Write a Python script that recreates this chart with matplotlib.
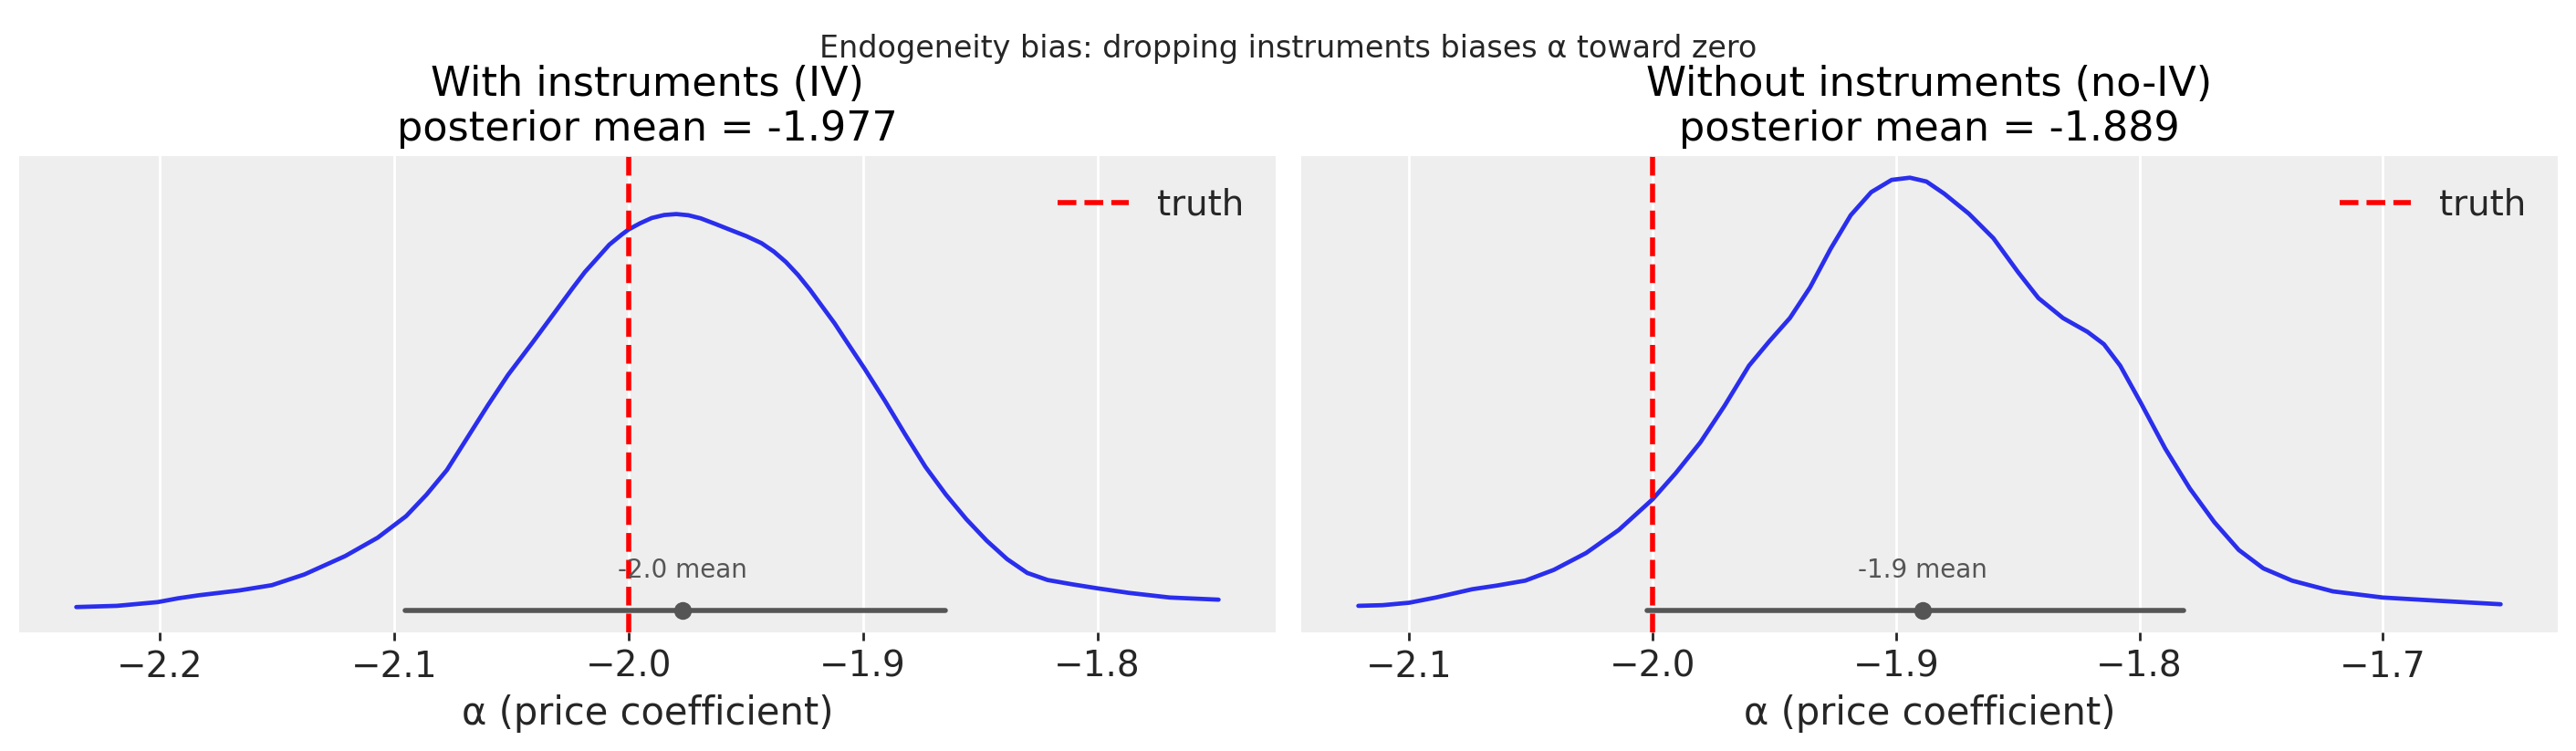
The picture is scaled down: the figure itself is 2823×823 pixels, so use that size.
import numpy as np
import matplotlib
matplotlib.use("Agg")
import matplotlib.pyplot as plt

# posterior density of alpha (with instruments)
iv_x = [-2.2356, -2.2182, -2.2009, -2.1922, -2.1835, -2.1661, -2.1522, -2.1383,
        -2.1209, -2.1070, -2.0949, -2.0862, -2.0775, -2.0688, -2.0601, -2.0514,
        -2.0410, -2.0323, -2.0236, -2.0186, -2.0134, -2.0082, -2.0030, -2.0000,
        -1.9952, -1.9901, -1.9848, -1.9796, -1.9745, -1.9692, -1.9628, -1.9563,
        -1.9497, -1.9433, -1.9380, -1.9329, -1.9277, -1.9225, -1.9173, -1.9121,
        -1.9080, -1.8993, -1.8906, -1.8819, -1.8733, -1.8646, -1.8559, -1.8472,
        -1.8385, -1.8299, -1.8212, -1.8108, -1.8000, -1.7865, -1.7691, -1.7483]
iv_dens = [0.060, 0.080, 0.141, 0.203, 0.252, 0.332, 0.418, 0.594,
           0.895, 1.197, 1.549, 1.901, 2.304, 2.832, 3.360, 3.863,
           4.391, 4.844, 5.297, 5.549, 5.772, 5.996, 6.159, 6.244,
           6.344, 6.433, 6.482, 6.497, 6.478, 6.427, 6.333, 6.234,
           6.135, 6.021, 5.882, 5.713, 5.500, 5.252, 4.979, 4.707,
           4.467, 3.964, 3.436, 2.882, 2.354, 1.901, 1.499, 1.147,
           0.845, 0.619, 0.503, 0.433, 0.367, 0.292, 0.216, 0.181]

# without instruments
noiv_x = [-2.1209, -2.1109, -2.1000, -2.0891, -2.0741, -2.0640, -2.0523, -2.0406,
          -2.0273, -2.0139, -2.0000, -1.9905, -1.9804, -1.9704, -1.9604, -1.9520,
          -1.9436, -1.9353, -1.9269, -1.9186, -1.9102, -1.9018, -1.8943, -1.8875,
          -1.8802, -1.8701, -1.8600, -1.8499, -1.8415, -1.8314, -1.8213, -1.8146,
          -1.8079, -1.7995, -1.7894, -1.7793, -1.7692, -1.7592, -1.7491, -1.7373,
          -1.7205, -1.7000, -1.6785, -1.6516]
noiv_dens = [0.080, 0.091, 0.131, 0.216, 0.352, 0.412, 0.493, 0.669,
             0.946, 1.323, 1.826, 2.254, 2.757, 3.360, 4.014, 4.416,
             4.794, 5.297, 5.926, 6.479, 6.856, 7.057, 7.093, 7.030,
             6.831, 6.504, 6.102, 5.548, 5.121, 4.794, 4.567, 4.366,
             4.014, 3.410, 2.656, 2.002, 1.449, 0.996, 0.694, 0.493,
             0.317, 0.216, 0.166, 0.106]

post_means = [-1.977, -1.889]
hdi_bounds = [(-2.0952, -1.8649), (-2.0022, -1.7818)]
alpha_true = -2.0
panel_titles = ["With instruments (IV)", "Without instruments (no-IV)"]
xticks_all = [[-2.2, -2.1, -2.0, -1.9, -1.8], [-2.1, -2.0, -1.9, -1.8, -1.7]]

plt.rcParams["font.family"] = ["DejaVu Sans"]
plt.rcParams["text.color"] = "0.15"
plt.rcParams["axes.labelcolor"] = "0.15"
plt.rcParams["xtick.color"] = "0.15"

fig = plt.figure(figsize=(14.115, 4.115), dpi=200)
W, H = 2823.0, 823.0
ax1 = fig.add_axes([21 / W, (H - 693) / H, 1377 / W, 522 / H])
ax2 = fig.add_axes([1426 / W, (H - 693) / H, 1377 / W, 522 / H], sharey=ax1)

curves = [(iv_x, iv_dens), (noiv_x, noiv_dens)]
gray = "#555555"

for i, ax in enumerate([ax1, ax2]):
    xs, ds = curves[i]
    ax.set_facecolor("#eeeeee")
    for s in ax.spines.values():
        s.set_visible(False)
    ax.set_axisbelow(True)
    ax.grid(True, axis="x", color="white", linewidth=1)

    ax.plot(xs, ds, color="#2a2eec", lw=1.7, solid_capstyle="round",
            solid_joinstyle="round")
    lo, hi = hdi_bounds[i]
    ax.plot([lo, hi], [0, 0], color=gray, lw=2.0, solid_capstyle="round")
    ax.plot([post_means[i]], [0], "o", color=gray, ms=7, mew=0)
    ax.text(post_means[i], 0.66, "{:.1f} mean".format(post_means[i]),
            ha="center", va="center", fontsize=10, color=gray)

    ax.axvline(alpha_true, color="red", ls="--", lw=2, label="truth")
    ax.legend(loc="upper right", frameon=False, fontsize=14)

    ax.set_xticks(xticks_all[i])
    ax.tick_params(axis="x", labelsize=14, length=3.2, width=1, pad=3.5)
    ax.tick_params(axis="y", left=False, labelleft=False)
    ax.set_xlabel("α (price coefficient)", fontsize=15, labelpad=4)
    ax.set_title("{}\nposterior mean = {:.3f}".format(panel_titles[i], post_means[i]),
                 fontsize=16, color="black")

ax1.margins(x=0.05, y=0.05)
ax2.margins(x=0.05, y=0.05)

fig.suptitle("Endogeneity bias: dropping instruments biases α toward zero",
             fontsize=12, y=0.955)

fig.savefig("out.png", dpi=200, facecolor="white")
